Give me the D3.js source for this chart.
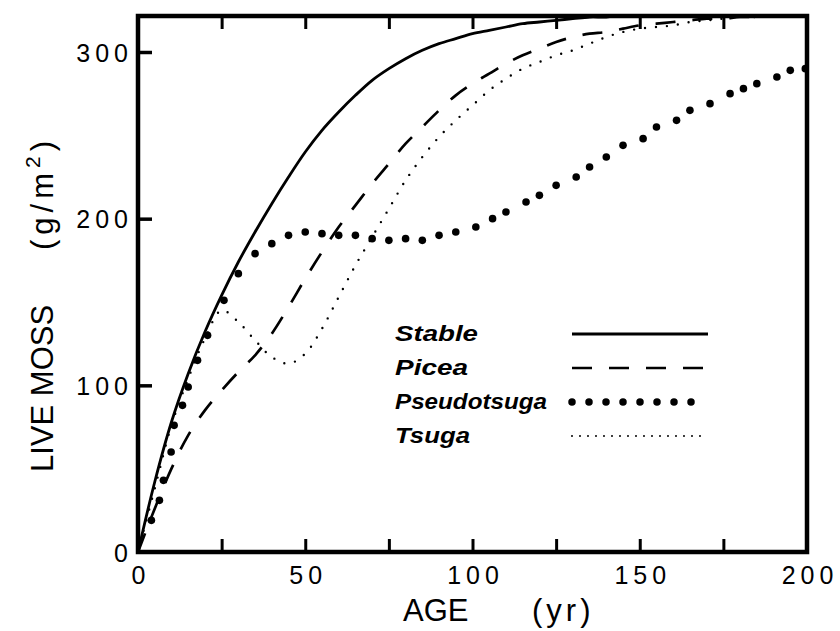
<!DOCTYPE html>
<meta charset="utf-8">
<style>

body {
  margin: 0;
  background: #fff;
}

.chart text {
  fill: black;
  font-family: "Liberation Sans", Arial, sans-serif;
}

.legend text {
  font-size: 22px;
  font-weight: bold;
  font-style: italic;
}

</style>

<svg class="chart"></svg>

<script src="https://cdn.jsdelivr.net/npm/d3@7"></script>

<script>

// age grid (yr) shared by the three line series
var ages = [0, 5, 10, 15, 20, 25, 30, 35, 40, 45, 50, 55, 60, 65, 70, 75, 80, 85, 90, 95,
            100, 105, 110, 115, 120, 125, 130, 135, 140, 145, 150, 155, 160, 165, 170, 175,
            180, 185, 190, 195, 200];

// live moss (g/m2)
var stable = [0, 42, 78, 107, 132, 154, 174, 192, 209, 225, 240, 253, 264, 274, 283, 290, 296, 301, 305, 308,
              311, 313, 315, 317, 318, 319, 320, 321, 321, 322, 322, 322, 322, 322, 322, 322,
              322, 322, 322, 322, 322];

var picea = [0, 26, 50, 70, 85, 97, 108, 118, 131, 147, 164, 180, 195, 208, 221, 233, 245, 255, 265, 274,
             281, 287, 293, 298, 302, 306, 309, 311, 312, 314, 316, 317, 318, 319, 320, 320,
             321, 321, 322, 322, 322];

var tsuga = [0, 38, 76, 104, 128, 145, 138, 127, 117, 113, 119, 134, 153, 172, 189, 206, 223, 237, 249, 259,
             268, 277, 284, 290, 294, 298, 301, 305, 309, 312, 314, 315, 316, 318, 319, 320,
             321, 321, 322, 322, 322];

// Pseudotsuga is plotted as separate dots
var pseudoAges = [4, 6.4, 7.6, 9.9, 10.8, 13.3, 15, 17.8, 20.8, 25.7, 30, 35, 40, 45, 50, 55, 60, 65, 70, 75,
                  80, 85, 90, 95, 101, 106, 110, 116, 120, 125, 131, 135, 140, 145, 151, 155, 161, 165,
                  171, 177, 181, 185, 191, 195, 199.5];
var pseudoValues = [19, 31, 43, 60, 76, 88, 99, 115, 130, 151, 167, 179, 185, 190, 192, 191, 190, 190, 188, 187,
                    188, 187, 190, 192, 195, 200, 204, 210, 214, 220, 225, 231, 237, 244, 248, 255, 259, 265,
                    269, 275, 278, 281, 285, 289, 290];

var xTicks = [25, 50, 75, 100, 125, 150, 175];
var xLabels = [0, 50, 100, 150, 200];
var yTicks = [100, 200, 300];
var yLabels = [0, 100, 200, 300];
var legendNames = ["Stable", "Picea", "Pseudotsuga", "Tsuga"];

var W = 840, H = 631;
var margin = {top: 16, right: 33, bottom: 79, left: 138},
    width = W - margin.left - margin.right,
    height = H - margin.top - margin.bottom;

var svg = d3.select(".chart")
	.attr("width", W)
	.attr("height", H);

var chart = svg.append("g")
	.attr("transform", "translate(" + margin.left + "," + margin.top + ")");

var x = d3.scaleLinear()
	.domain([0, 200])
	.range([0, width]);

var y = d3.scaleLinear()
	.domain([0, 321.6])
	.range([height, 0]);

chart.append("clipPath")
	.attr("id", "plot")
  .append("rect")
	.attr("width", width)
	.attr("height", height);

// curves
var line = d3.line()
	.x(function(d) { return x(d[0]); })
	.y(function(d) { return y(d[1]); })
	.curve(d3.curveCatmullRom.alpha(0.5));

function pairs(vals) { return ages.map(function(a, i) { return [a, vals[i]]; }); }

var curves = chart.append("g").attr("clip-path", "url(#plot)");

curves.append("path")
	.attr("d", line(pairs(tsuga)))
	.attr("fill", "none")
	.attr("stroke", "#000")
	.attr("stroke-width", 2.4)
	.attr("stroke-linecap", "round")
	.attr("stroke-dasharray", "0 11");

curves.append("path")
	.attr("d", line(pairs(picea)))
	.attr("fill", "none")
	.attr("stroke", "#000")
	.attr("stroke-width", 2.7)
	.attr("stroke-dasharray", "20 17");

curves.append("path")
	.attr("d", line(pairs(stable)))
	.attr("fill", "none")
	.attr("stroke", "#000")
	.attr("stroke-width", 2.8);

curves.selectAll("circle")
	.data(pseudoAges)
  .enter().append("circle")
	.attr("cx", function(d) { return x(d); })
	.attr("cy", function(d, i) { return y(pseudoValues[i]); })
	.attr("r", 3.8)
	.attr("fill", "#000");

// frame
chart.append("rect")
	.attr("width", width)
	.attr("height", height)
	.attr("fill", "none")
	.attr("stroke", "#000")
	.attr("stroke-width", 4.5);

// inward ticks
function ticks(g, w) {
	g.select(".domain").remove();
	g.selectAll("line").attr("stroke", "#000").attr("stroke-width", w);
}

chart.append("g")
	.attr("transform", "translate(0," + height + ")")
	.call(d3.axisBottom(x).tickValues(xTicks).tickSize(-13).tickFormat(""))
	.call(ticks, 3);

chart.append("g")
	.call(d3.axisTop(x).tickValues(xTicks).tickSize(-13).tickFormat(""))
	.call(ticks, 3);

chart.append("g")
	.call(d3.axisLeft(y).tickValues(yTicks).tickSize(-14).tickFormat(""))
	.call(ticks, 3.5);

// tick labels
function labels(g) {
	g.select(".domain").remove();
	g.selectAll("line").remove();
	g.attr("font-family", null).attr("font-size", null);
	g.selectAll("text")
		.attr("font-size", 25)
		.attr("letter-spacing", 5);
}

chart.append("g")
	.attr("transform", "translate(0," + height + ")")
	.call(d3.axisBottom(x).tickValues(xLabels).tickSize(0).tickPadding(14))
	.call(labels)
	.selectAll("text").attr("dx", 2.5);

chart.append("g")
	.call(d3.axisLeft(y).tickValues(yLabels).tickSize(0).tickPadding(10))
	.call(labels)
	.selectAll("text").attr("dx", 5).attr("dy", 9);

// axis titles
svg.append("text")
	.attr("x", 403)
	.attr("y", 621)
	.attr("font-size", 31)
	.text("AGE");

svg.append("text")
	.attr("x", 532)
	.attr("y", 621)
	.attr("font-size", 31)
	.attr("letter-spacing", 4)
	.text("(yr)");

svg.append("text")
	.attr("transform", "translate(53,472) rotate(-90)")
	.attr("font-size", 31)
	.text("LIVE MOSS");

var unit = svg.append("text")
	.attr("transform", "translate(53,250) rotate(-90)")
	.attr("font-size", 31)
	.attr("letter-spacing", 5);
unit.append("tspan").text("(g/m");
unit.append("tspan").attr("font-size", 21).attr("dy", -13).text("2");
unit.append("tspan").attr("dy", 13).text(")");

// legend
var legend = svg.append("g").attr("class", "legend");
var rowY = function(i) { return 341 + i * 34; };
var styles = [
	{w: 2.8, dash: null, cap: "butt"},
	{w: 2.7, dash: "20 17", cap: "butt"},
	{w: 7.5, dash: "0 17", cap: "round"},
	{w: 2, dash: "0 8", cap: "round"}
];
var widths = [83, 73, 152, 75];

legendNames.forEach(function(name, i) {
	legend.append("text")
		.attr("x", 395)
		.attr("y", rowY(i))
		.attr("textLength", widths[i])
		.attr("lengthAdjust", "spacingAndGlyphs")
		.text(name);
	legend.append("line")
		.attr("x1", 572).attr("x2", 708)
		.attr("y1", rowY(i) - 7).attr("y2", rowY(i) - 7)
		.attr("stroke", "#000")
		.attr("stroke-width", styles[i].w)
		.attr("stroke-linecap", styles[i].cap)
		.attr("stroke-dasharray", styles[i].dash);
});

</script>
